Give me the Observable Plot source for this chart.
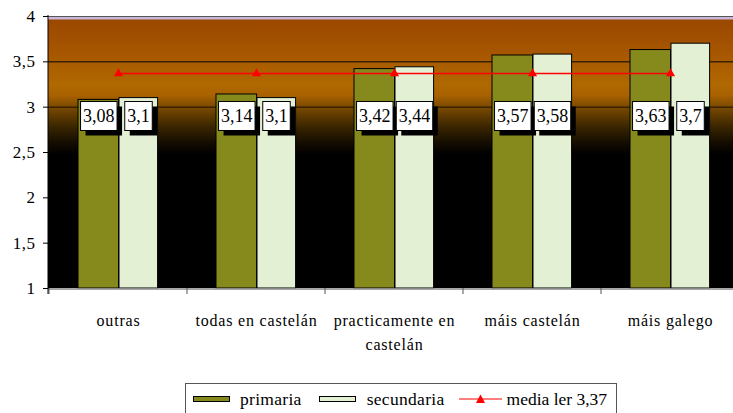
<!DOCTYPE html>
<html><head><meta charset="utf-8">
<script src="https://cdn.jsdelivr.net/npm/d3@7"></script>
<script src="https://cdn.jsdelivr.net/npm/@observablehq/plot@0.6"></script>
<style>
body{margin:0;background:#fff;font-family:"Liberation Serif","Tinos","Times New Roman","DejaVu Serif",serif;}
#wrap{position:relative;width:733px;height:413px;overflow:hidden;}
#chart svg{display:block;}
#chart svg text{font-family:"Liberation Serif","Tinos","Times New Roman","DejaVu Serif",serif;}
g[aria-label="x-axis tick label"] text{letter-spacing:0.8px;}
g[aria-label="y-axis tick label"] text{letter-spacing:0.5px;}
#legend{position:absolute;left:185px;top:383px;width:432px;height:34px;border:1px solid #555;box-sizing:border-box;display:flex;align-items:center;font-size:17.5px;color:#000;padding-left:7px;padding-bottom:2px;}
#legend .sw{display:inline-block;width:35px;height:4px;border:1px solid #000;}
#legend .item{display:flex;align-items:center;}
</style>
</head><body>
<div id="wrap"><div id="chart"></div><div id="legend"></div></div>
<script>
const categories = ["outras", "todas en castelán", "practicamente en castelán", "máis castelán", "máis galego"];
const tickLabels = ["outras", "todas en castelán", "practicamente en\ncastelán", "máis castelán", "máis galego"];
const seriesNames = ["primaria", "secundaria"];
const primaria = [3.08, 3.14, 3.42, 3.57, 3.63];
const secundaria = [3.1, 3.1, 3.44, 3.58, 3.7];
const mediaName = "media ler 3,37";
const mediaValue = 3.37;
const yTicks = [1, 1.5, 2, 2.5, 3, 3.5, 4];

const colors = {primaria: "#86891B", secundaria: "#E3F0D4", media: "#FF0000"};
const fmt = v => String(v).replace(".", ",");

const rowsP = categories.map((c, i) => ({c, s: seriesNames[0], v: primaria[i]}));
const rowsS = categories.map((c, i) => ({c, s: seriesNames[1], v: secundaria[i]}));
const mediaRows = categories.map(c => ({c, v: mediaValue}));
const labelFor = new Map(categories.map((c, i) => [c, tickLabels[i]]));
const labelY = 2.9;

function background(index, {x, y}, values, dims) {
  const g = d3.create("svg:g");
  const grad = g.append("defs").append("linearGradient")
    .attr("id", "bggrad").attr("x1", 0).attr("y1", 0).attr("x2", 0).attr("y2", 1);
  [[0, "#9A4700"], [0.09, "#A25000"], [0.17, "#AA5C00"], [0.25, "#B06800"], [0.29, "#A96200"],
   [0.335, "#7A4A00"], [0.41, "#382400"], [0.47, "#120B00"], [0.51, "#000000"], [1, "#000000"]]
    .forEach(([o, c]) => grad.append("stop").attr("offset", o).attr("stop-color", c));
  const x0 = dims.marginLeft, x1 = dims.width - dims.marginRight;
  g.append("rect").attr("x", x0).attr("y", y(yTicks[yTicks.length - 1]))
    .attr("width", x1 - x0).attr("height", y(yTicks[0]) - y(yTicks[yTicks.length - 1]))
    .attr("fill", "url(#bggrad)");
  return g.node();
}

function axisLines(index, {x, y}, values, dims) {
  const g = d3.create("svg:g");
  const x0 = dims.marginLeft, x1 = dims.width - dims.marginRight;
  const yb = y(yTicks[0]);
  g.append("line").attr("x1", x0).attr("x2", x1).attr("y1", yb + 1).attr("y2", yb + 1)
    .attr("stroke", "#8a8a8a").attr("stroke-width", 1.5);
  categories.forEach(c => {
    const xx = x(c);
    g.append("line").attr("x1", xx).attr("x2", xx).attr("y1", yb).attr("y2", yb + 6)
      .attr("stroke", "#555").attr("stroke-width", 1);
  });
  g.append("line").attr("x1", x0).attr("x2", x0).attr("y1", y(yTicks[yTicks.length - 1]) - 1).attr("y2", yb + 6)
    .attr("stroke", "#000").attr("stroke-width", 1);
  return g.node();
}

const plot = Plot.plot({
  width: 733,
  height: 380,
  marginTop: 16,
  marginBottom: 92,
  marginLeft: 48,
  marginRight: -7,
  style: {fontFamily: "'Liberation Serif', 'Times New Roman', serif", background: "transparent", color: "#000"},
  x: {domain: categories, padding: 0},
  y: {domain: [1, 4]},
  marks: [
    background,
    Plot.ruleY(yTicks.slice(4, -1), {stroke: "#3a2100", strokeWidth: 1.5}),
    Plot.ruleY([yTicks[yTicks.length - 1]], {stroke: "#C9B6DB", strokeWidth: 3, dy: 1.5}),
    Plot.ruleY([yTicks[yTicks.length - 1]], {stroke: "#555", strokeWidth: 1}),
    Plot.barY(rowsP, {x: "c", y1: yTicks[0], y2: "v", fill: colors.primaria, stroke: "#000", strokeWidth: 1, insetLeft: 29, insetRight: 68.4}),
    Plot.barY(rowsS, {x: "c", y1: yTicks[0], y2: "v", fill: colors.secundaria, stroke: "#000", strokeWidth: 1, insetLeft: 70, insetRight: 29.4}),
    Plot.line(mediaRows, {x: "c", y: "v", stroke: colors.media, strokeWidth: 1.5}),
    Plot.dot(mediaRows, {x: "c", y: "v", symbol: "triangle", fill: colors.media, stroke: "none", r: 3.4}),
    Plot.text(rowsP, {x: "c", y: () => labelY, text: d => fmt(d.v), dx: -19.7, fontSize: 18, fill: "#000"}),
    Plot.text(rowsS, {x: "c", y: () => labelY, text: d => fmt(d.v), dx: 20, fontSize: 18, fill: "#000"}),
    Plot.axisY({ticks: yTicks, tickSize: 5, tickPadding: 8, tickFormat: fmt, fontSize: 17, label: null}),
    Plot.axisX({tickSize: 0, tickPadding: 20, tickFormat: c => labelFor.get(c), fontSize: 16, lineHeight: 1.5, label: null}),
    axisLines
  ]
});
document.getElementById("chart").appendChild(plot);

// white boxes with drop shadow behind value labels
const NS = "http://www.w3.org/2000/svg";
d3.select(plot).selectAll('g[aria-label="text"] text').each(function() {
  const b = this.getBBox();
  const parent = this.parentNode;
  const tr = this.getAttribute("transform") || "";
  const padX = 2.5, boxH = 29;
  const cy = b.y + b.height / 2;
  const mk = (off, fill, stroke) => {
    const r = document.createElementNS(NS, "rect");
    r.setAttribute("x", b.x - padX + off); r.setAttribute("y", cy - boxH / 2 + off);
    r.setAttribute("width", b.width + 2 * padX); r.setAttribute("height", boxH);
    r.setAttribute("fill", fill);
    if (stroke) { r.setAttribute("stroke", stroke); r.setAttribute("stroke-width", 1); }
    if (tr) r.setAttribute("transform", tr);
    parent.insertBefore(r, this);
  };
  mk(5, "#000", null);
  mk(0, "#fff", "#000");
});

// legend
const legend = d3.select("#legend");
const it1 = legend.append("div").attr("class", "item");
it1.append("span").attr("class", "sw").style("background", colors.primaria);
it1.append("span").style("margin-left", "10px").style("letter-spacing", "0.3px").text(seriesNames[0]);
const it2 = legend.append("div").attr("class", "item").style("margin-left", "17px");
it2.append("span").attr("class", "sw").style("background", colors.secundaria);
it2.append("span").style("margin-left", "11px").style("letter-spacing", "0.3px").text(seriesNames[1]);
const it3 = legend.append("div").attr("class", "item").style("margin-left", "14px");
const ls = it3.append("svg").attr("width", 43).attr("height", 12);
ls.append("line").attr("x1", 0).attr("x2", 43).attr("y1", 6).attr("y2", 6).attr("stroke", colors.media).attr("stroke-width", 1.2);
ls.append("path").attr("d", "M21.5,1.5L26,10L17,10Z").attr("fill", colors.media);
it3.append("span").style("margin-left", "5px").text(mediaName);
</script>
</body></html>
